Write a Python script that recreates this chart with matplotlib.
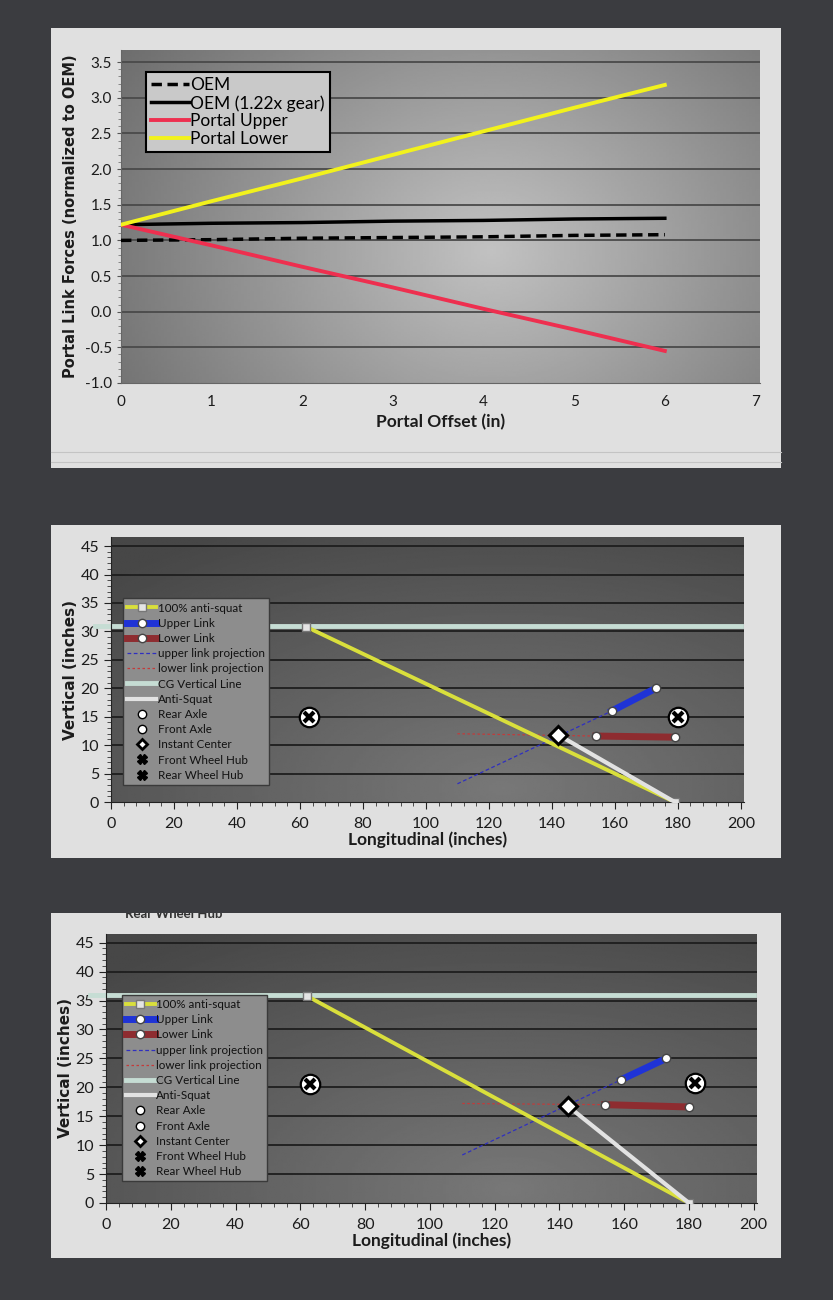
import numpy as np
import matplotlib.pyplot as plt
from matplotlib.patches import Rectangle
from matplotlib.lines import Line2D

# ---- data: chart 1 (portal link forces) ----
offset = [0, 1, 2, 3, 4, 5, 6]
oem = [1.00, 1.01, 1.03, 1.04, 1.05, 1.07, 1.08]
oem_gear = [1.22, 1.24, 1.25, 1.27, 1.28, 1.30, 1.31]
portal_upper = [1.22, 0.93, 0.63, 0.34, 0.04, -0.25, -0.55]
portal_lower = [1.22, 1.55, 1.87, 2.20, 2.53, 2.86, 3.18]

# ---- data: chart 2 (suspension geometry, case A) ----
a_cg_x = [-5, 200]
a_cg_y = [31.0, 31.0]
a_as100_x = [62, 179]
a_as100_y = [30.8, 0.0]
a_upper_x = [159, 173]
a_upper_y = [16.0, 20.0]
a_lower_x = [154, 179]
a_lower_y = [11.6, 11.4]
a_uproj_x = [110, 159]
a_uproj_y = [3.2, 16.0]
a_lproj_x = [110, 154]
a_lproj_y = [12.0, 11.6]
a_ic = (142, 11.8)
a_as_x = [142, 179]
a_as_y = [11.8, 0.0]
a_hub_x = [63, 180]
a_hub_y = [15.0, 15.0]

# ---- data: chart 3 (suspension geometry, case B) ----
b_cg_x = [-5, 200]
b_cg_y = [35.9, 35.9]
b_as100_x = [62, 180]
b_as100_y = [35.8, 0.0]
b_upper_x = [159, 173]
b_upper_y = [21.3, 25.0]
b_lower_x = [154, 180]
b_lower_y = [17.0, 16.6]
b_uproj_x = [110, 159]
b_uproj_y = [8.3, 21.3]
b_lproj_x = [110, 154]
b_lproj_y = [17.2, 17.0]
b_ic = (142.5, 16.8)
b_as_x = [142.5, 180]
b_as_y = [16.8, 0.0]
b_hub_x = [63, 182]
b_hub_y = [20.5, 20.8]

legend_labels = ["100% anti-squat", "Upper Link", "Lower Link", "upper link projection",
                 "lower link projection", "CG Vertical Line", "Anti-Squat", "Rear Axle",
                 "Front Axle", "Instant Center", "Front Wheel Hub", "Rear Wheel Hub"]

W, H = 833, 1300
TXT = "#1c1c1c"


def box(l, t, r, b):
    return [l / W, 1 - b / H, (r - l) / W, (b - t) / H]


def gradient(ax, cx, cy, c_in, c_out, spread):
    yy, xx = np.mgrid[0:1:200j, 0:1:200j]
    d = np.sqrt(((xx - cx) / spread[0]) ** 2 + ((yy - cy) / spread[1]) ** 2)
    v = c_in + (c_out - c_in) * np.clip(d, 0, 1)
    ax.imshow(v, extent=[0, 1, 0, 1], transform=ax.transAxes, origin="lower",
              cmap="gray", vmin=0, vmax=1, aspect="auto", zorder=0, interpolation="bilinear")


fig = plt.figure(figsize=(W / 100, H / 100), dpi=100)
fig.patch.set_facecolor("#3b3c40")

# light panels (photo of spreadsheet)
for (l, t, r, b) in [(51, 28, 781, 468), (51, 525, 781, 858), (51, 913, 781, 1258)]:
    fig.add_artist(Rectangle((l / W, 1 - b / H), (r - l) / W, (b - t) / H,
                             transform=fig.transFigure, fc="#e0e0e0", ec="none", zorder=0))
# faint cell lines below chart 1
for yy in [452, 462]:
    fig.add_artist(Line2D([51 / W, 781 / W], [1 - yy / H] * 2, transform=fig.transFigure,
                          color="#c4c4c4", lw=0.8, zorder=0.5))

# ================= chart 1 =================
ax1 = fig.add_axes(box(121, 50, 760, 383))
gradient(ax1, 0.58, 0.4, 0.76, 0.40, (0.75, 1.2))
ax1.set_xlim(0, 7.05)
ax1.set_ylim(-1.0, 3.67)
ax1.set_yticks(np.arange(-1.0, 3.51, 0.5))
ax1.set_yticklabels([f"{v:.1f}" for v in np.arange(-1.0, 3.51, 0.5)])
ax1.set_xticks(range(0, 8))
ax1.set_yticks(np.arange(-1.0, 3.51, 0.1), minor=True)
for v in np.arange(-0.5, 3.51, 0.5):
    ax1.axhline(v, color="#4a4a4a", lw=1.3, zorder=1)
ax1.plot(offset, oem, color="black", lw=2.5, ls=(0, (3, 1.6)), label="OEM", zorder=3)
ax1.plot(offset, oem_gear, color="black", lw=2.5, label="OEM (1.22x gear)", zorder=3)
ax1.plot(offset, portal_upper, color="#ee2f4f", lw=2.8, label="Portal Upper", zorder=3)
ax1.plot(offset, portal_lower, color="#f2f21c", lw=2.8, label="Portal Lower", zorder=4)
for s in ["top", "right"]:
    ax1.spines[s].set_visible(False)
ax1.spines["left"].set_color("#666666")
ax1.spines["bottom"].set_color("#666666")
ax1.tick_params(axis="both", which="major", labelsize=11, colors="#555555", labelcolor=TXT, length=3)
ax1.tick_params(axis="x", pad=9, length=0)
ax1.tick_params(axis="y", which="minor", length=2, colors="#777777")
for lab in ax1.get_xticklabels() + ax1.get_yticklabels():
    lab.set_family("Lato")
ax1.set_ylabel("Portal Link Forces (normalized to OEM)", fontsize=10.5, fontweight="bold",
               color=TXT, labelpad=5)
ax1.set_xlabel("Portal Offset (in)", fontsize=12.5, fontweight="bold", color=TXT, family="Lato",
               labelpad=3)
leg1 = ax1.legend(loc="upper left", bbox_to_anchor=(0.025, 0.96), frameon=True,
                  fancybox=False, edgecolor="black", facecolor="#c9c9c9", framealpha=1,
                  handlelength=2.2, handletextpad=0.05, labelspacing=0.1, borderpad=0.3,
                  prop={"family": "Lato", "size": 12.5})
leg1.get_frame().set_linewidth(1.5)


# ================= charts 2 & 3 =================
def geometry(rect, ylim_top, cg_x, cg_y, as100_x, as100_y, up_x, up_y, lo_x, lo_y,
             upr_x, upr_y, lpr_x, lpr_y, ic, as_x, as_y, hub_x, hub_y, leg_box):
    ax = fig.add_axes(box(*rect))
    gradient(ax, 0.62, 0.05, 0.47, 0.28, (0.9, 1.1))
    ax.set_xlim(0, 201)
    ax.set_ylim(0, ylim_top)
    ax.set_xticks(range(0, 201, 20))
    ax.set_yticks(range(0, 46, 5))
    ax.set_xticks(range(0, 201, 4), minor=True)
    ax.set_yticks(range(0, 46), minor=True)
    for v in range(5, 46, 5):
        ax.axhline(v, color="#1e1e1e", lw=1.3, zorder=1)

    l_cg, = ax.plot(cg_x, cg_y, color="#c6ddd4", lw=3.5, zorder=2, clip_on=False)
    l_up_pr, = ax.plot(upr_x, upr_y, color="#2f2fc0", lw=0.9, ls=(0, (3, 2)), zorder=3)
    l_lo_pr, = ax.plot(lpr_x, lpr_y, color="#c43a3a", lw=0.9, ls=(0, (2, 2)), zorder=3)
    l_as100, = ax.plot(as100_x, as100_y, color="#d9df3c", lw=2.8, marker="s", ms=6,
                       mfc="#e4e4e4", mec="#777777", zorder=4)
    l_as, = ax.plot(as_x, as_y, color="#e2e2e2", lw=3, zorder=4)
    l_up, = ax.plot(up_x, up_y, color="#1f33d6", lw=5, marker="o", ms=6,
                    mfc="white", mec="#444444", zorder=5)
    l_lo, = ax.plot(lo_x, lo_y, color="#8e2c30", lw=5, marker="o", ms=6,
                    mfc="white", mec="#444444", zorder=5)
    ax.plot([ic[0]], [ic[1]], marker="D", ms=9, mfc="white", mec="black", mew=2.2, ls="none",
            zorder=6)
    ax.plot(hub_x, hub_y, marker="o", ms=14, mfc="white", mec="black", mew=1.6, ls="none",
            zorder=6)
    ax.plot(hub_x, hub_y, marker="x", ms=7.5, mec="black", mew=3, ls="none", zorder=7)

    for s in ["top", "right"]:
        ax.spines[s].set_visible(False)
    ax.spines["left"].set_color("#222222")
    ax.spines["bottom"].set_color("#222222")
    ax.tick_params(axis="both", which="major", labelsize=11.5, colors="#222222",
                   labelcolor=TXT, length=5)
    ax.tick_params(axis="x", which="major", pad=6)
    ax.tick_params(axis="both", which="minor", length=3, colors="#333333")
    for lab in ax.get_xticklabels() + ax.get_yticklabels():
        lab.set_family("Lato")
    ax.set_ylabel("Vertical (inches)", fontsize=11, fontweight="bold", color=TXT, labelpad=2)
    ax.set_xlabel("Longitudinal (inches)", fontsize=12.5, fontweight="bold", color=TXT,
                  family="Lato", labelpad=0)

    p_ax = Line2D([], [], ls="none", marker="o", ms=6, mfc="white", mec="black")
    p_ic = Line2D([], [], ls="none", marker="D", ms=5, mfc="white", mec="black", mew=2)
    p_hub = Line2D([], [], ls="none", marker="X", ms=7, color="black")
    handles = [l_as100, l_up, l_lo, l_up_pr, l_lo_pr, l_cg, l_as, p_ax, p_ax, p_ic, p_hub, p_hub]
    leg = ax.legend(handles, legend_labels, loc="upper left", bbox_to_anchor=leg_box,
                    fancybox=False, edgecolor="#3a3a3a", facecolor="#8d8d8d", framealpha=1,
                    handlelength=2.5, handletextpad=0.1, labelspacing=0.36, borderpad=0.35,
                    prop={"family": "Lato", "size": 8.4})
    for t in leg.get_texts():
        t.set_color("#111111")
    leg.get_frame().set_linewidth(1.0)
    leg.set_zorder(8)
    return ax


geometry((111, 537, 744, 802), 46.6, a_cg_x, a_cg_y, a_as100_x, a_as100_y, a_upper_x, a_upper_y,
         a_lower_x, a_lower_y, a_uproj_x, a_uproj_y, a_lproj_x, a_lproj_y, a_ic, a_as_x, a_as_y,
         a_hub_x, a_hub_y, (0.01, 0.79))
geometry((106, 934, 757, 1203), 46.5, b_cg_x, b_cg_y, b_as100_x, b_as100_y, b_upper_x, b_upper_y,
         b_lower_x, b_lower_y, b_uproj_x, b_uproj_y, b_lproj_x, b_lproj_y, b_ic, b_as_x, b_as_y,
         b_hub_x, b_hub_y, (0.015, 0.795))

# cut-off spreadsheet row at top of the third photo
fig.text(125 / W, 1 - 920 / H, "Rear Wheel Hub", fontsize=9.5, fontweight="bold",
         color="#333333", family="Lato", va="bottom", zorder=1)
fig.add_artist(Rectangle((0, 1 - 913 / H), 1, (913 - 860) / H, transform=fig.transFigure,
                         fc="#3b3c40", ec="none", zorder=2))

fig.savefig("out.png", dpi=100, facecolor=fig.get_facecolor())
